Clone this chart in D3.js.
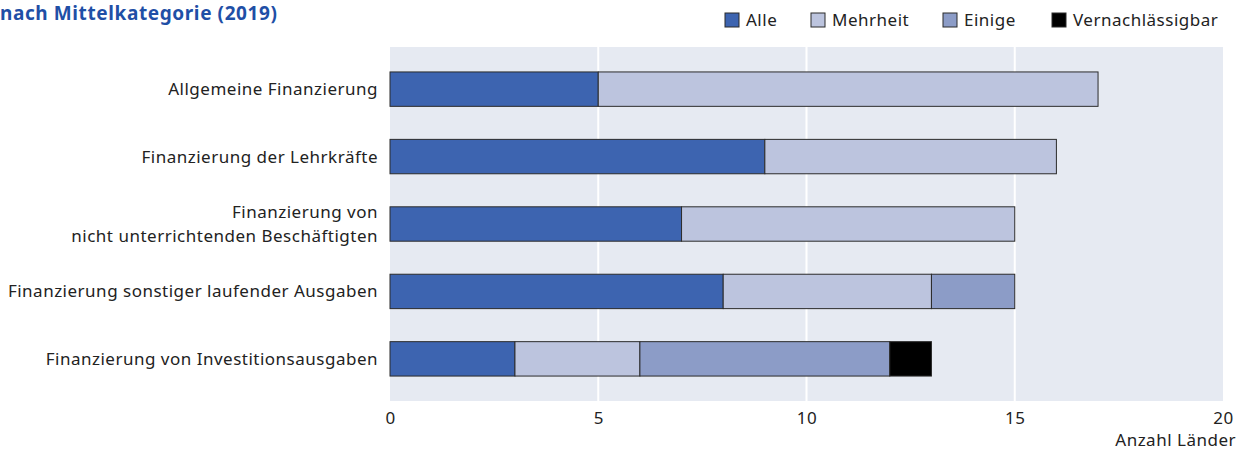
<!DOCTYPE html>
<html>
<head>
<meta charset="utf-8">
<script src="https://cdn.jsdelivr.net/npm/d3@7"></script>
<style>
  body { margin: 0; background: #fff; }
  svg { display: block; font-family: "Noto Sans", sans-serif; }
</style>
</head>
<body>
<svg id="chart" width="1237" height="450"></svg>
<script>
const categories = [
  "Allgemeine Finanzierung",
  "Finanzierung der Lehrkräfte",
  "Finanzierung von\nnicht unterrichtenden Beschäftigten",
  "Finanzierung sonstiger laufender Ausgaben",
  "Finanzierung von Investitionsausgaben"
]
const seriesNames = ["Alle", "Mehrheit", "Einige", "Vernachlässigbar"]
const alle = [5, 9, 7, 8, 3]
const mehrheit = [12, 7, 8, 5, 3]
const einige = [0, 0, 0, 2, 6]
const vernachl = [0, 0, 0, 0, 1]
const xTicks = [0, 5, 10, 15, 20]
const colors = ["#3d64b0", "#bcc4de", "#8c9cc7", "#000000"]

const svg = d3.select("#chart")
const fontSize = '17px'
const spacing = '0.5px'

const x = d3.scaleLinear().domain([0, 20]).range([390, 1223])
const y = d3.scaleBand().domain(categories).range([47, 401]).paddingInner(0.49).paddingOuter(0.37)

// background
svg.append('rect')
  .attr('x', x(0))
  .attr('y', 47)
  .attr('width', x(20) - x(0))
  .attr('height', 401 - 47)
  .attr('fill', '#e6eaf2')

// grid
svg.append('g').selectAll('line')
  .data(xTicks.slice(1, -1))
  .enter()
  .append('line')
  .attr('x1', d => x(d))
  .attr('x2', d => x(d))
  .attr('y1', 47)
  .attr('y2', 401)
  .attr('stroke', '#fff')
  .attr('stroke-width', 2)

const rows = categories.map((c, i) => {
  const vals = [alle[i], mehrheit[i], einige[i], vernachl[i]]
  const row = { cat: c }
  seriesNames.forEach((s, j) => row[s] = vals[j])
  return row
})
const stacked = d3.stack().keys(seriesNames)(rows)

stacked.forEach((layer, j) => {
  svg.append('g').selectAll('rect')
    .data(layer.filter(d => d[1] > d[0]))
    .enter()
    .append('rect')
    .attr('x', d => x(d[0]))
    .attr('y', d => y(d.data.cat))
    .attr('width', d => x(d[1]) - x(d[0]))
    .attr('height', y.bandwidth())
    .attr('fill', colors[j])
    .attr('stroke', '#2b2b2b')
    .attr('stroke-width', 1)
})

// category labels
categories.forEach(c => {
  const lines = c.split("\n")
  const cy = y(c) + y.bandwidth() / 2
  const t = svg.append('text')
    .attr('text-anchor', 'end')
    .attr('font-size', fontSize)
    .attr('letter-spacing', spacing)
    .attr('fill', '#222')
  lines.forEach((l, k) => {
    t.append('tspan')
      .attr('x', 378)
      .attr('y', cy + 6 + (k - (lines.length - 1) / 2) * 24)
      .text(l)
  })
})

// x axis
const xAxis = d3.axisBottom(x).tickValues(xTicks).tickSize(0).tickPadding(0)
const axG = svg.append('g')
  .attr('transform', 'translate(0,412)')
  .call(xAxis)
axG.select('.domain').remove()
axG.selectAll('text')
  .attr('font-size', fontSize)
  .attr('letter-spacing', spacing)
  .attr('fill', '#222')
  .attr('font-family', '"Noto Sans", sans-serif')

svg.append('text')
  .attr('x', 1236)
  .attr('y', 446)
  .attr('text-anchor', 'end')
  .attr('font-size', fontSize)
  .attr('letter-spacing', spacing)
  .attr('fill', '#222')
  .text('Anzahl Länder')

// title at the top edge
svg.append('text')
  .attr('x', 0)
  .attr('y', 20)
  .attr('font-size', '19px')
  .attr('font-weight', 'bold')
  .attr('letter-spacing', '0.6px')
  .attr('fill', '#1f4fa6')
  .text('nach Mittelkategorie (2019)')

// legend
const legendX = [725, 811, 943, 1052]
const legendG = svg.append('g').selectAll('g')
  .data(seriesNames)
  .enter()
  .append('g')
  .attr('transform', (d, i) => `translate(${legendX[i]},13)`)
legendG.append('rect')
  .attr('width', 14)
  .attr('height', 14)
  .attr('fill', (d, i) => colors[i])
  .attr('stroke', '#2b2b2b')
legendG.append('text')
  .attr('x', 21)
  .attr('y', 13)
  .attr('font-size', fontSize)
  .attr('letter-spacing', spacing)
  .attr('fill', '#222')
  .text(d => d)
</script>
</body>
</html>
